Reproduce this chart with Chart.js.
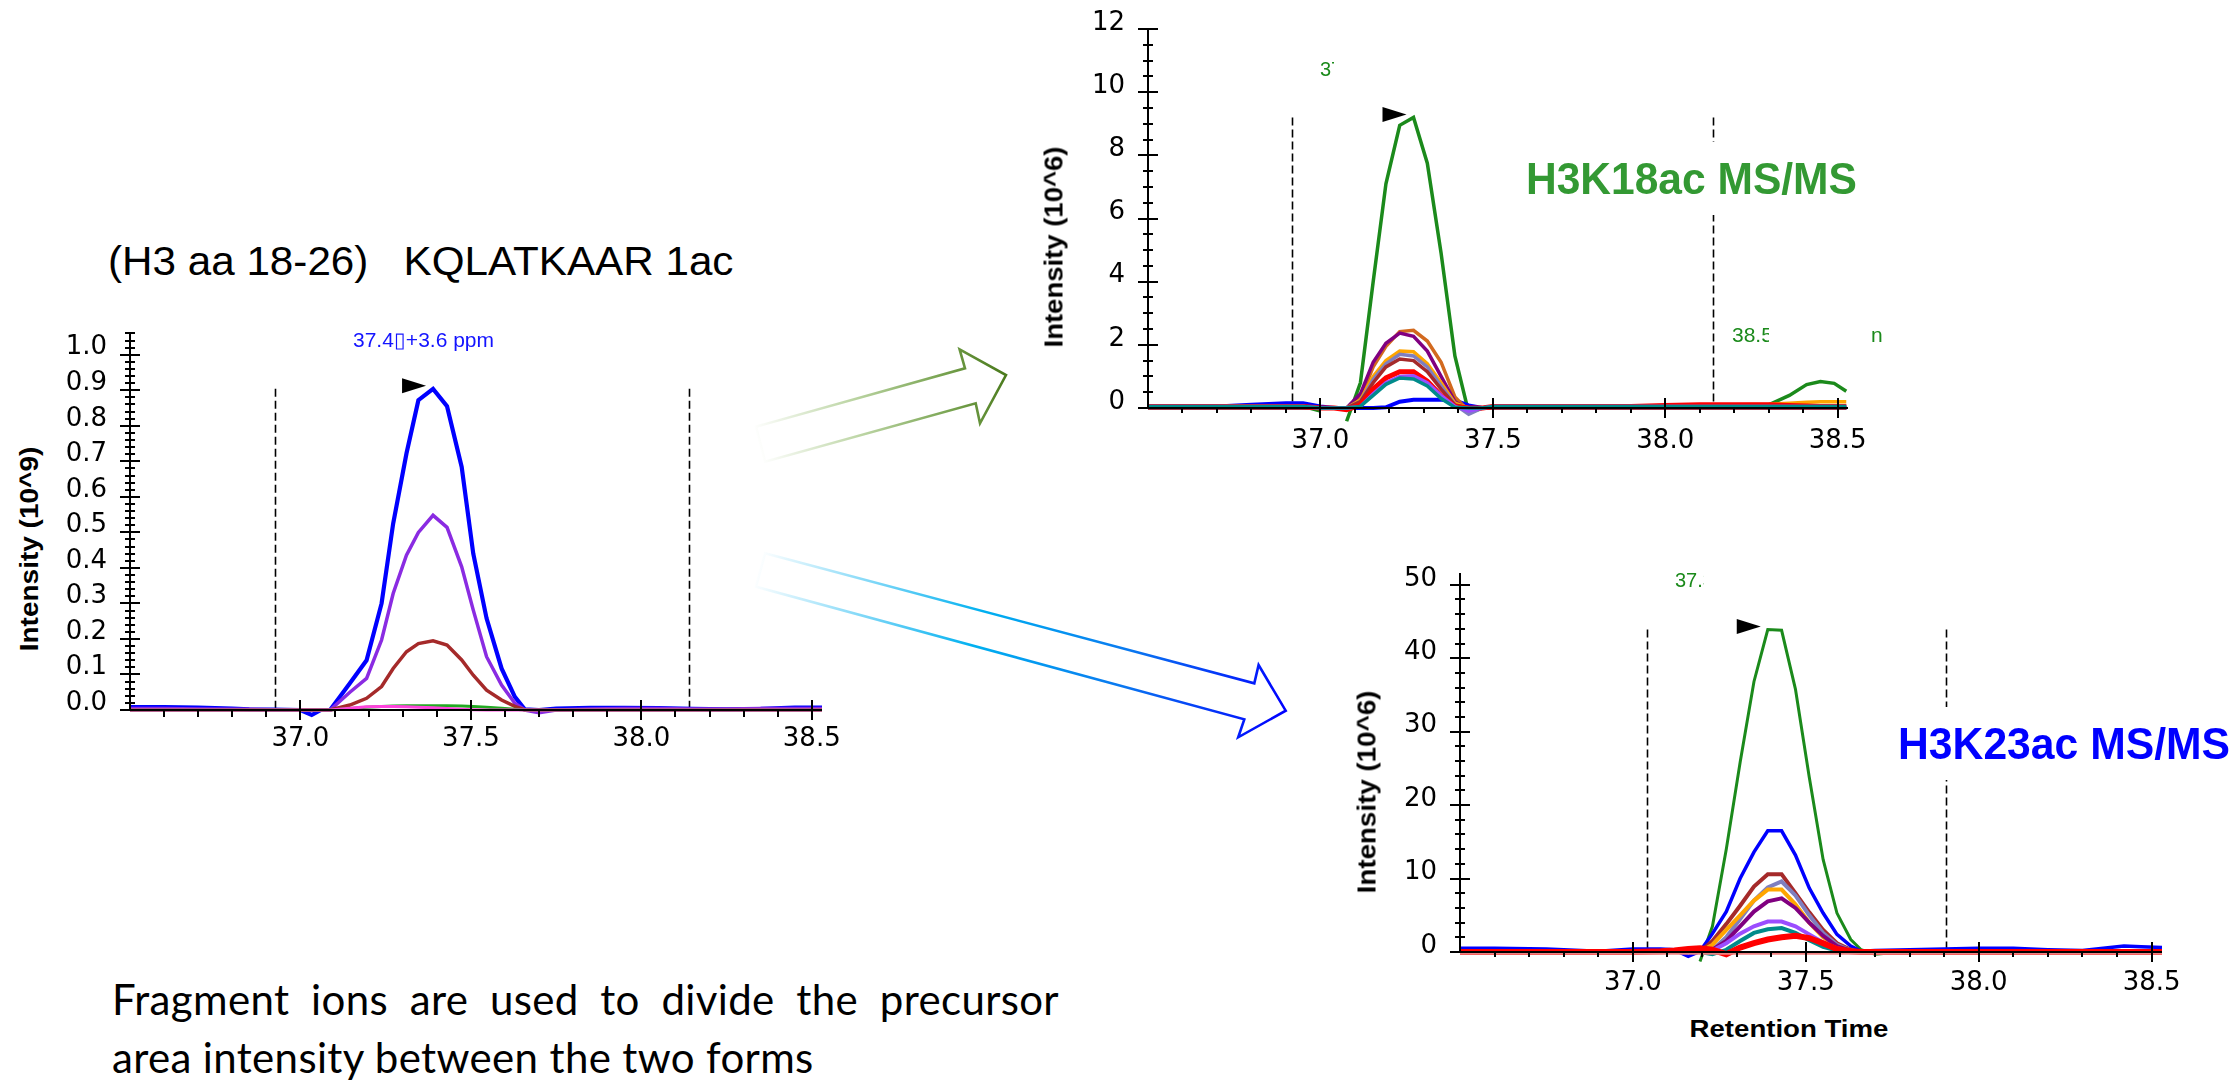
<!DOCTYPE html>
<html>
<head>
<meta charset="utf-8">
<script src="https://cdn.jsdelivr.net/npm/chart.js@4.4.1/dist/chart.umd.min.js"></script>
<style>
  html, body { margin: 0; padding: 0; background: #fff; }
  body { width: 2238px; height: 1082px; position: relative; overflow: hidden; font-family: "Liberation Sans", Arial, sans-serif; }
  canvas { position: absolute; }
  .txt { position: absolute; white-space: pre; line-height: 1; }
  .clip { position: absolute; overflow: hidden; white-space: pre; line-height: 1; }
  .ytitle { position: absolute; width: 0; height: 0; }
  .ytitle span { position: absolute; left: 0; top: 0; white-space: nowrap; font-weight: bold; font-size: 25px; color: #000; }
  .tag { position: absolute; background: #fff; font-weight: bold; white-space: pre; height: 73px; line-height: 73px; }
</style>
</head>
<body>

<svg width="2238" height="1082" style="position:absolute;left:0;top:0">
  <defs>
    <linearGradient id="gGreen" gradientUnits="userSpaceOnUse" x1="756" y1="440" x2="1006" y2="375">
      <stop offset="0" stop-color="#ffffff"/>
      <stop offset="0.4" stop-color="#bcd5a4"/>
      <stop offset="0.75" stop-color="#7aa553"/>
      <stop offset="1" stop-color="#4a7a1c"/>
    </linearGradient>
    <linearGradient id="gBlue" gradientUnits="userSpaceOnUse" x1="756" y1="570" x2="1286" y2="711">
      <stop offset="0" stop-color="#ffffff"/>
      <stop offset="0.42" stop-color="#00b0f0"/>
      <stop offset="0.7" stop-color="#0a78f0"/>
      <stop offset="1" stop-color="#0000ff"/>
    </linearGradient>
  </defs>
  <polygon points="756,426.7 965,368.3 959.6,349.3 1006,375 980,423.3 975.7,403.3 765,461.7" fill="none" stroke="url(#gGreen)" stroke-width="2.6"/>
  <polygon points="765,553.3 1254.3,683.3 1258.6,665 1285.7,710.7 1238.2,737.3 1244.3,719.3 756,586.7" fill="none" stroke="url(#gBlue)" stroke-width="2.6"/>
</svg>

<canvas id="precursor-canvas" width="812" height="468" style="left:50px;top:292px"></canvas>
<canvas id="k18-canvas" width="820" height="469" style="left:1068px;top:-11px"></canvas>
<canvas id="k23-canvas" width="822" height="469" style="left:1380px;top:533px"></canvas>

<div class="txt" style="left:108px;top:241px;font-size:40px;transform:scaleX(1.055);transform-origin:left">(H3 aa 18-26)   KQLATKAAR 1ac</div>
<div class="txt" style="left:353px;top:329px;font-size:21px;color:#1414ff">37.4▯+3.6 ppm</div>

<div class="ytitle" style="left:29px;top:549px"><span style="transform:translate(-50%,-50%) rotate(-90deg) scaleX(1.12)">Intensity (10^9)</span></div>
<div class="ytitle" style="left:1054px;top:247px"><span style="transform:translate(-50%,-50%) rotate(-90deg) scaleX(1.10)">Intensity (10^6)</span></div>
<div class="ytitle" style="left:1367px;top:792px"><span style="transform:translate(-50%,-50%) rotate(-90deg) scaleX(1.11)">Intensity (10^6)</span></div>

<div class="clip" style="left:1320px;top:59px;width:14px;height:22px;font-size:20px;color:#1b8a1b">37</div>
<div class="clip" style="left:1732px;top:324px;width:37px;height:22px;font-size:21px;color:#1b8a1b">38.5</div>
<div class="txt" style="left:1871px;top:324px;font-size:21px;color:#1b8a1b">n</div>
<div class="clip" style="left:1675px;top:570px;width:29px;height:22px;font-size:20px;color:#1b8a1b">37.3</div>

<div class="tag" style="left:1526px;top:142px;font-size:45px;color:#339933;transform:scaleX(0.945);transform-origin:left">H3K18ac MS/MS</div>
<div class="tag" style="left:1898px;top:707px;font-size:44px;color:#0000ff;transform:scaleX(0.97);transform-origin:left">H3K23ac MS/MS</div>

<div class="txt" style="left:1789px;top:1018px;font-size:23px;font-weight:bold;transform:translateX(-50%) scaleX(1.2)">Retention Time</div>

<div class="txt" style="left:112px;top:978px;width:947px;font-family:Lato,'Open Sans',sans-serif;font-size:42px;letter-spacing:0.35px;white-space:normal;text-align:justify;text-align-last:justify">Fragment ions are used to divide the precursor</div>
<div class="txt" style="left:112px;top:1036px;font-family:Lato,'Open Sans',sans-serif;font-size:42px;letter-spacing:0.35px">area intensity between the two forms</div>

<script>
// retention time axis labels (minutes)
const rtTicks = [37.0, 37.5, 38.0, 38.5]

// precursor XIC, KQLATKAAR 1ac (10^9)
const precursorYTicks = [0, 0.1, 0.2, 0.3, 0.4, 0.5, 0.6, 0.7, 0.8, 0.9, 1.0]
const precursorBounds = [36.924, 38.14]
const precursorTimes = [36.5, 36.6, 36.7, 36.8, 36.85, 36.92, 37.0, 37.033, 37.06, 37.087,
  37.145, 37.194, 37.238, 37.272, 37.311, 37.346, 37.389, 37.43, 37.473, 37.507,
  37.546, 37.59, 37.629, 37.658, 37.7, 37.75, 37.85, 37.95, 38.05, 38.15,
  38.25, 38.35, 38.45, 38.53]
const precursorBlue = [0.008, 0.008, 0.007, 0.004, 0.002, 0.001, 0.0, -0.014, 0.0, 0.0,
  0.075, 0.14, 0.30, 0.525, 0.722, 0.872, 0.904, 0.855, 0.684, 0.44,
  0.258, 0.117, 0.037, 0.002, 0.0, 0.004, 0.006, 0.006, 0.005, 0.003,
  0.002, 0.003, 0.007, 0.007]
const precursorPurple = [0.004, 0.004, 0.003, 0.002, 0.002, 0.001, 0.0, 0.0, 0.0, 0.0,
  0.05, 0.089, 0.197, 0.328, 0.436, 0.50, 0.548, 0.514, 0.403, 0.281,
  0.15, 0.07, 0.019, 0.0, -0.008, 0.0, 0.003, 0.004, 0.004, 0.003,
  0.003, 0.004, 0.004, 0.004]
const precursorBrown = [0, 0, 0, 0, 0, 0, 0, 0, 0, 0,
  0.014, 0.033, 0.066, 0.117, 0.164, 0.187, 0.195, 0.183, 0.141, 0.098,
  0.056, 0.028, 0.01, 0, 0, 0, 0, 0, 0, 0,
  0, 0, 0, 0]
const precursorGreen = [0, 0, 0, 0, 0, 0, 0, 0, 0, 0,
  0.004, 0.008, 0.01, 0.011, 0.012, 0.012, 0.012, 0.012, 0.011, 0.01,
  0.008, 0.005, 0.002, 0, 0, 0, 0, 0, 0, 0,
  0, 0, 0, 0]
const precursorPink = [0, 0, 0, 0, 0, 0, 0, 0, 0, 0,
  0.005, 0.009, 0.01, 0.01, 0.009, 0.008, 0.006, 0.004, 0.002, 0.001,
  0, 0, 0, 0, 0, 0, 0, 0, 0, 0,
  0, 0, 0, 0]

// H3K18ac fragment ions (10^6)
const k18YTicks = [0, 2, 4, 6, 8, 10, 12]
const k18Bounds = [36.919, 38.139]
const k18Times = [36.5, 36.6, 36.7, 36.8, 36.9, 36.95, 37.0, 37.04, 37.076, 37.116,
  37.153, 37.19, 37.23, 37.27, 37.31, 37.35, 37.39, 37.43, 37.47, 37.5,
  37.6, 37.7, 37.8, 37.9, 38.0, 38.1, 38.2, 38.3, 38.36, 38.41,
  38.45, 38.49, 38.525]
const k18Green = [0.05, 0.05, 0.05, 0.05, 0.05, 0.05, -0.1, null, -0.42, 0.8,
  4.0, 7.1, 8.95, 9.2, 7.75, 4.9, 1.65, -0.15, 0.0, 0.05,
  0.05, 0.05, 0.05, 0.05, 0.05, 0.05, 0.05, 0.1, 0.4, 0.74,
  0.84, 0.78, 0.53]
const k18Chocolate = [0.05, 0.05, 0.05, 0.05, 0.05, 0.05, 0, 0, 0, 0.3,
  1.3, 1.95, 2.42, 2.46, 2.12, 1.45, 0.35, -0.1, 0, 0.05,
  0.05, 0.05, 0.05, 0.05, 0.05, 0.05, 0.05, 0.05, 0.05, 0.05,
  0.05, 0.05, 0.05]
const k18Purple = [0, 0, 0, 0, 0, 0, 0, 0, 0, 0.45,
  1.45, 2.05, 2.37, 2.27, 1.8, 1.0, 0.2, -0.05, 0, 0,
  0, 0, 0, 0, 0, 0, 0, 0, 0, 0,
  0, 0, 0]
const k18Orange = [0.05, 0.05, 0.05, 0.05, 0.05, 0.05, 0, 0, 0, 0.25,
  1.0, 1.5, 1.8, 1.78, 1.4, 0.8, 0.15, 0, 0, 0.05,
  0.05, 0.05, 0.05, 0.05, 0.05, 0.08, 0.1, 0.12, 0.15, 0.18,
  0.2, 0.2, 0.2]
const k18Slate = [0, 0, 0, 0, 0, 0, 0, 0, 0, 0.2,
  0.9, 1.4, 1.7, 1.65, 1.3, 0.7, 0.1, -0.2, 0, 0,
  0, 0, 0, 0, 0, 0, 0, 0, 0, 0,
  0, 0, 0]
const k18Brown = [0, 0, 0, 0, 0, 0, 0, 0, 0, 0.2,
  0.8, 1.3, 1.55, 1.5, 1.15, 0.6, 0.1, 0, 0, 0,
  0, 0, 0, 0, 0, 0, 0, 0, 0, 0,
  0, 0, 0]
const k18Red = [0.05, 0.05, 0.05, 0.05, 0.05, 0.05, 0, 0, -0.05, 0.1,
  0.6, 0.95, 1.15, 1.15, 0.85, 0.4, 0.05, 0, 0, 0.05,
  0.05, 0.05, 0.05, 0.05, 0.08, 0.1, 0.1, 0.1, 0.08, 0.06,
  0.05, 0.05, 0.05]
const k18Violet = [0.05, 0.05, 0.05, 0.05, 0.05, 0.05, 0, 0, 0, 0.05,
  0.45, 0.8, 1.0, 1.02, 0.8, 0.4, 0.05, -0.1, 0, 0.05,
  0.05, 0.05, 0.05, 0.05, 0.05, 0.05, 0.05, 0.05, 0.05, 0.05,
  0.05, 0.05, 0.05]
const k18Teal = [0.05, 0.05, 0.05, 0.05, 0.05, 0.05, 0, 0, 0, 0.05,
  0.4, 0.75, 0.95, 0.92, 0.7, 0.3, 0.02, 0, 0, 0.05,
  0.05, 0.05, 0.05, 0.05, 0.05, 0.05, 0.05, 0.05, 0.05, 0.05,
  0.05, 0.05, 0.05]
const k18Blue = [0.05, 0.05, 0.05, 0.1, 0.15, 0.15, 0.05, 0, 0, 0,
  0, 0.02, 0.2, 0.26, 0.26, 0.26, 0.24, 0.08, 0, 0,
  0, 0, 0, 0, 0, 0, 0, 0, 0, 0,
  0, 0, 0]

// H3K23ac fragment ions (10^6)
const k23YTicks = [0, 10, 20, 30, 40, 50]
const k23Bounds = [37.04, 37.905]
const k23Times = [36.5, 36.6, 36.75, 36.9, 37.0, 37.08, 37.12, 37.16, 37.194, 37.23,
  37.27, 37.31, 37.35, 37.39, 37.43, 37.47, 37.51, 37.55, 37.59, 37.63,
  37.66, 37.7, 37.8, 37.9, 38.0, 38.1, 38.2, 38.3, 38.38, 38.42,
  38.47, 38.53]
const k23Green = [0.1, 0.1, 0.1, 0.1, 0.1, 0.1, 0.1, null, -1.3, 3.5,
  14, 25.8, 36.8, 43.9, 43.8, 35.8, 23.8, 12.6, 5.3, 1.7,
  0.3, -0.3, 0.1, 0.2, 0.2, 0.2, 0.2, 0.2, 0.2, 0.2,
  0.2, 0.2]
const k23Blue = [0.5, 0.5, 0.4, 0.1, 0.4, 0.4, 0.3, -0.6, 0.1, 2.5,
  5.5, 10, 13.6, 16.5, 16.5, 13.2, 8.7, 5.3, 2.4, 0.8,
  0.1, 0.2, 0.3, 0.4, 0.5, 0.5, 0.3, 0.2, 0.6, 0.8,
  0.7, 0.6]
const k23Brown = [0, 0, 0, 0, 0, 0, 0, 0, 0, 1.5,
  3.8, 6.3, 8.9, 10.6, 10.6, 8.0, 5.4, 3.0, 1.2, 0.3,
  0, 0, 0, 0, 0, 0, 0, 0, 0, 0,
  0, 0]
const k23Slate = [0, 0, 0, 0, 0, 0, 0, 0, 0, 0.3,
  2.0, 4.5, 7.0, 8.8, 9.6, 7.7, 5.0, 2.6, 1.0, 0.2,
  0, 0, 0, 0, 0, 0, 0, 0, 0, 0,
  0, 0]
const k23Orange = [0, 0, 0, 0, 0, 0, 0, 0, 0, 1.0,
  3.0, 5.0, 7.0, 8.5, 8.5, 6.5, 4.0, 2.0, 0.8, 0.2,
  0, 0, 0, 0, 0, 0, 0, 0, 0, 0,
  0, 0]
const k23Purple = [0, 0, 0, 0, 0, 0, 0, 0, 0, 0.3,
  1.5, 3.5, 5.5, 6.9, 7.3, 6.0, 4.0, 2.2, 0.8, 0.2,
  0, 0, 0, 0, 0, 0, 0, 0, 0, 0,
  0, 0]
const k23Violet = [0, 0, 0, 0, 0, 0, 0, 0, 0, 0.2,
  1.2, 2.5, 3.5, 4.15, 4.15, 3.5, 2.4, 1.3, 0.5, 0.1,
  0, 0, 0, 0, 0, 0, 0, 0, 0, 0,
  0, 0]
const k23Teal = [0, 0, 0, 0, 0, 0, 0, 0, 0, -0.3,
  0.3, 1.5, 2.6, 3.1, 3.25, 2.6, 1.6, 0.7, 0.2, 0,
  0, 0, 0, 0, 0, 0, 0, 0, 0, 0,
  0, 0]
const k23Red = [0, 0, 0, 0, 0, 0.1, 0.2, 0.4, 0.5, 0.3,
  -0.3, 0.6, 1.2, 1.7, 2.0, 2.2, 1.9, 1.2, 0.4, 0.1,
  0, 0, 0, 0, 0, 0, 0, 0, 0, 0,
  0, 0]
const k23Salmon = [-0.25, -0.25, -0.25, -0.25, -0.25, -0.25, -0.25, -0.25, -0.25, -0.25,
  -0.25, -0.25, -0.25, -0.25, -0.25, -0.25, -0.25, -0.25, -0.25, -0.25,
  -0.25, -0.25, -0.25, -0.25, -0.25, -0.25, -0.25, -0.25, -0.25, -0.25,
  -0.25, -0.25]

// axis lines, tick marks, integration bounds and apex marker
const chromPlugin = {
  id: "chrom",
  beforeDatasetsDraw(chart, args, o) {
    const { ctx, scales: { x, y } } = chart
    const peak = findApex(chart, o.main)
    const y0 = y.getPixelForValue(0)
    const top = y.getPixelForValue(peak.y)
    ctx.save()
    ctx.strokeStyle = "#000"
    ctx.lineWidth = 1.6
    ctx.setLineDash([8, 4])
    o.bounds.forEach((t) => {
      const px = Math.round(x.getPixelForValue(t)) + 0.5
      ctx.beginPath()
      ctx.moveTo(px, top)
      ctx.lineTo(px, y0)
      ctx.stroke()
    })
    ctx.restore()
  },
  afterDatasetsDraw(chart, args, o) {
    const { ctx, chartArea: a, scales: { x, y } } = chart
    const y0 = y.getPixelForValue(0)
    ctx.save()
    ctx.strokeStyle = "#000"
    ctx.fillStyle = "#000"
    ctx.lineWidth = 2
    ctx.beginPath()
    ctx.moveTo(a.left, a.top)
    ctx.lineTo(a.left, y0 + 1)
    ctx.moveTo(a.left - 1, y0)
    ctx.lineTo(a.right, y0)
    // y ticks
    const ny = Math.floor(y.max / o.yMinor + 1e-6)
    for (let i = 0; i <= ny; i++) {
      const v = i * o.yMinor
      const r = v / o.yMajor
      const len = Math.abs(r - Math.round(r)) < 1e-6 ? 10 : 5
      const py = Math.round(y.getPixelForValue(v))
      ctx.moveTo(a.left - len, py)
      ctx.lineTo(a.left + len, py)
    }
    // x ticks
    const k0 = Math.floor(x.min / o.xMinor + 1e-6) + 1
    const k1 = Math.floor(x.max / o.xMinor + 1e-6)
    const per = Math.round(o.xMajor / o.xMinor)
    for (let k = k0; k <= k1; k++) {
      const px = Math.round(x.getPixelForValue(k * o.xMinor))
      if (k % per === 0) {
        ctx.moveTo(px, y0 - 10)
        ctx.lineTo(px, y0 + 10)
      } else {
        ctx.moveTo(px, y0)
        ctx.lineTo(px, y0 + o.minorLen)
      }
    }
    ctx.stroke()
    // apex marker
    const peak = findApex(chart, o.main)
    const tx = x.getPixelForValue(peak.x) - 7
    const ty = y.getPixelForValue(peak.y) - 3
    ctx.beginPath()
    ctx.moveTo(tx, ty)
    ctx.lineTo(tx - 24, ty - 7.5)
    ctx.lineTo(tx - 24, ty + 7.5)
    ctx.closePath()
    ctx.fill()
    ctx.restore()
  },
}

function findApex(chart, index) {
  const pts = chart.data.datasets[index].data
  let best = null
  pts.forEach((p) => {
    if (p.y !== null && (best === null || p.y > best.y)) best = p
  })
  return best
}

function points(times, values) {
  return times.map((t, i) => ({ x: t, y: values[i] }))
}

function drawChromatogram(id, cfg) {
  const canvas = document.getElementById(id)
  return new Chart(canvas, {
    type: "line",
    data: {
      datasets: cfg.series.map((s) => ({
        data: points(cfg.times, s.values),
        borderColor: s.color,
        borderWidth: s.width,
        pointRadius: 0,
        tension: 0,
        fill: false,
        clip: false,
        spanGaps: false,
      })),
    },
    options: {
      responsive: false,
      animation: false,
      devicePixelRatio: 1,
      layout: { padding: { top: 40, right: 40, left: 0, bottom: 0 } },
      plugins: {
        legend: { display: false },
        tooltip: { enabled: false },
        chrom: {
          main: cfg.main,
          bounds: cfg.bounds,
          yMinor: cfg.yMinor,
          yMajor: cfg.yMajor,
          xMinor: 0.1,
          xMajor: 0.5,
          minorLen: cfg.minorLen,
        },
      },
      scales: {
        x: {
          type: "linear",
          min: 36.5,
          max: 38.53,
          grid: { display: false, drawTicks: false },
          border: { display: false },
          afterBuildTicks: (s) => { s.ticks = rtTicks.map((v) => ({ value: v })) },
          afterFit: (s) => { s.height = 50 },
          ticks: {
            autoSkip: false,
            maxRotation: 0,
            padding: cfg.xPad,
            color: "#000",
            font: { family: "DejaVu Sans", size: 26 },
            callback: (v) => v.toFixed(1),
          },
        },
        y: {
          min: 0,
          max: cfg.yMax,
          grid: { display: false, drawTicks: false },
          border: { display: false },
          afterBuildTicks: (s) => { s.ticks = cfg.yTicks.map((v) => ({ value: v })) },
          afterFit: (s) => { s.width = 80 },
          ticks: {
            padding: 23,
            color: "#000",
            font: { family: "DejaVu Sans", size: 26, lineHeight: (cfg.lift * 2) / 26 },
            callback: (v) => [cfg.yFormat(v), ""],
          },
        },
      },
    },
    plugins: [chromPlugin],
  })
}

document.addEventListener("DOMContentLoaded", () => {
  if (typeof Chart === "undefined") {
    console.error("Chart.js is not loaded")
    return
  }

  // Precursor chromatogram
  drawChromatogram("precursor-canvas", {
    times: precursorTimes,
    series: [
      { values: precursorPink, color: "#ff44dd", width: 3 },
      { values: precursorGreen, color: "#22aa22", width: 3 },
      { values: precursorBrown, color: "#a52a2a", width: 3.5 },
      { values: precursorPurple, color: "#8a2be2", width: 3.5 },
      { values: precursorBlue, color: "#0000ff", width: 4.2 },
    ],
    main: 4,
    bounds: precursorBounds,
    yTicks: precursorYTicks,
    yMax: 1.064,
    yMinor: 0.02,
    yMajor: 0.1,
    yFormat: (v) => v.toFixed(1),
    lift: 7,
    xPad: 14,
    minorLen: 7,
  })

  // H3K18ac MS/MS chromatogram
  drawChromatogram("k18-canvas", {
    times: k18Times,
    series: [
      { values: k18Teal, color: "#008b8b", width: 3.5 },
      { values: k18Violet, color: "#9b4dff", width: 3.5 },
      { values: k18Red, color: "#ff0000", width: 5 },
      { values: k18Brown, color: "#a52a2a", width: 3.5 },
      { values: k18Slate, color: "#7f7fbf", width: 3.5 },
      { values: k18Orange, color: "#ffa500", width: 3.5 },
      { values: k18Purple, color: "#800080", width: 3.5 },
      { values: k18Chocolate, color: "#d2691e", width: 3.5 },
      { values: k18Blue, color: "#0000ff", width: 4 },
      { values: k18Green, color: "#1b8a1b", width: 3.5 },
    ],
    main: 9,
    bounds: k18Bounds,
    yTicks: k18YTicks,
    yMax: 12,
    yMinor: 0.5,
    yMajor: 2,
    yFormat: (v) => String(v),
    lift: 6,
    xPad: 18,
    minorLen: 5,
  })

  // H3K23ac MS/MS chromatogram
  drawChromatogram("k23-canvas", {
    times: k23Times,
    series: [
      { values: k23Salmon, color: "#f08080", width: 2 },
      { values: k23Red, color: "#ff0000", width: 6 },
      { values: k23Teal, color: "#008b8b", width: 4 },
      { values: k23Violet, color: "#9b4dff", width: 4 },
      { values: k23Purple, color: "#800080", width: 4 },
      { values: k23Orange, color: "#ffa500", width: 4 },
      { values: k23Slate, color: "#7f7fbf", width: 4 },
      { values: k23Brown, color: "#a52a2a", width: 4 },
      { values: k23Blue, color: "#0000ff", width: 3.5 },
      { values: k23Green, color: "#1b8a1b", width: 3 },
    ],
    main: 9,
    bounds: k23Bounds,
    yTicks: k23YTicks,
    yMax: 51.6,
    yMinor: 2,
    yMajor: 10,
    yFormat: (v) => String(v),
    lift: 6,
    xPad: 16,
    minorLen: 5,
  })
})
</script>
</body>
</html>
